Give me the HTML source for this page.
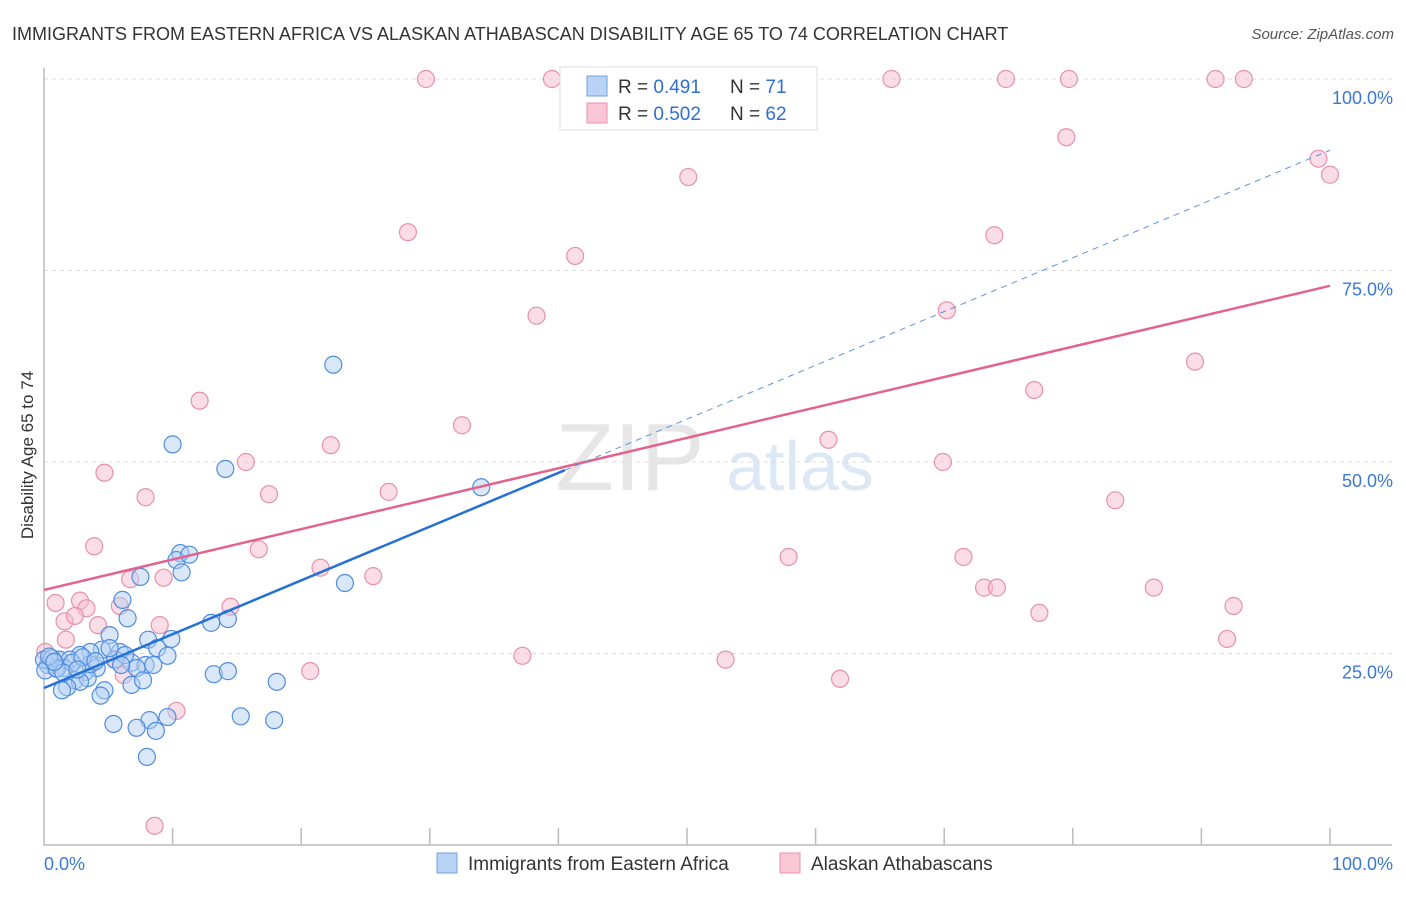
<!DOCTYPE html>
<html><head><meta charset="utf-8"><style>
body{margin:0;background:#fff;font-family:"Liberation Sans",sans-serif}
svg text{font-family:"Liberation Sans",sans-serif}
</style></head><body>
<svg id="c" width="1406" height="892">
<text x="12" y="40" font-size="18" fill="#333">IMMIGRANTS FROM EASTERN AFRICA VS ALASKAN ATHABASCAN DISABILITY AGE 65 TO 74 CORRELATION CHART</text>
<text x="1394" y="39" font-size="15" fill="#555" font-style="italic" text-anchor="end">Source: ZipAtlas.com</text>
<text x="630" y="490" font-size="96" fill="#e6e6e6" font-family="Liberation Serif" text-anchor="middle">ZIP</text>
<text x="800" y="490" font-size="70" fill="#dce8f6" text-anchor="middle">atlas</text>
<text transform="translate(33,455) rotate(-90)" font-size="17" fill="#333" text-anchor="middle">Disability Age 65 to 74</text>
<g id="grid"></g><g id="pts"></g><g id="lines"></g>
<g>
<rect x="560" y="67" width="257" height="63" fill="#fff" stroke="#ddd"/>
<rect x="587" y="76" width="20" height="20" fill="#b8d3f5" stroke="#6fa0e0"/>
<rect x="587" y="103" width="20" height="20" fill="#f8c6d5" stroke="#e892ad"/>
<text x="618" y="93" font-size="19" fill="#333">R = <tspan fill="#2f6fd0">0.491</tspan><tspan x="730">N = </tspan><tspan fill="#2f6fd0">71</tspan></text>
<text x="618" y="120" font-size="19" fill="#333">R = <tspan fill="#2f6fd0">0.502</tspan><tspan x="730">N = </tspan><tspan fill="#2f6fd0">62</tspan></text>
</g>
<g>
<rect x="437" y="853" width="20" height="20" fill="#b8d3f5" stroke="#6fa0e0"/>
<text x="468" y="870" font-size="19" fill="#333">Immigrants from Eastern Africa</text>
<rect x="780" y="853" width="20" height="20" fill="#f8c6d5" stroke="#e892ad"/>
<text x="811" y="870" font-size="19" fill="#333">Alaskan Athabascans</text>
</g>
<text x="44" y="870" font-size="18" fill="#3a78d6">0.0%</text>
<text x="1393" y="870" font-size="18" fill="#3a78d6" text-anchor="end">100.0%</text>
</svg>
<script>
const yTicks=[25,50,75,100];
const yTickLabels=["25.0%","50.0%","75.0%","100.0%"];
const blueX=[22.5,10.0,14.1,34.0,10.6,10.3,11.3,10.7,7.5,23.4,6.1,6.5,13.0,14.3,5.1,8.1,9.9,8.8,9.6,4.5,5.9,3.6,2.8,1.2,0.5,2.0,5.5,6.8,7.9,8.5,7.2,4.1,3.2,1.6,0.9,0.3,2.4,3.4,2.8,1.8,1.4,4.7,4.4,6.8,7.7,13.2,14.3,18.1,5.4,8.2,9.6,7.2,8.7,15.3,17.9,8.0,3.6,5.1,6.3,0,0.1,0.6,1.0,2.2,3.0,0.4,1.5,4.0,6.0,0.8,2.6];
const blueY=[62.7,52.3,49.1,46.7,38.1,37.2,37.9,35.6,35.0,34.2,32.0,29.6,29.0,29.5,27.4,26.8,26.9,25.7,24.7,25.5,25.2,25.2,24.8,24.2,23.9,24.2,24.2,23.8,23.5,23.5,23.1,23.1,22.6,23.1,23.1,23.5,21.5,21.8,21.3,20.6,20.2,20.2,19.5,20.9,21.5,22.3,22.7,21.3,15.8,16.3,16.7,15.3,14.9,16.8,16.3,11.5,23.6,25.7,24.8,24.2,22.8,24.4,23.0,23.8,24.5,24.6,22.5,24.0,23.5,23.9,22.9];
const pinkX=[29.7,39.5,65.9,74.8,79.7,91.1,93.3,79.5,99.1,100,50.1,28.3,73.9,41.3,38.3,70.2,89.5,77.0,12.1,32.5,22.3,61.0,15.7,69.9,4.7,7.9,17.5,26.8,83.3,3.9,16.7,57.9,71.5,21.5,25.6,6.7,9.3,73.1,74.1,86.3,0.9,2.8,3.3,5.9,92.5,14.5,77.4,1.6,2.4,4.2,9.0,92.0,1.7,0.1,37.2,53.0,20.7,6.2,61.9,10.3,8.6,5.6];
const pinkY=[100,100,100,100,100,100,100,92.4,89.6,87.5,87.2,80.0,79.6,76.9,69.1,69.8,63.1,59.4,58.0,54.8,52.2,52.9,50.0,50.0,48.6,45.4,45.8,46.1,45.0,39.0,38.6,37.6,37.6,36.2,35.1,34.7,34.9,33.6,33.6,33.6,31.6,31.9,30.9,31.2,31.2,31.1,30.3,29.2,29.9,28.7,28.7,26.9,26.8,25.2,24.7,24.2,22.7,22.2,21.7,17.5,2.5,24.2];
const pinkTrend=[33.3,73.0];
const blueTrend=[20.5,90.7];
const blueSolidEnd=40.5;
const ns="http://www.w3.org/2000/svg";
const X=v=>44+v*12.86, Y=v=>845-v*7.66;
function mk(t,a,p){const e=document.createElementNS(ns,t);for(const k in a)e.setAttribute(k,a[k]);p.appendChild(e);return e;}
const grid=document.getElementById('grid'),pts=document.getElementById('pts'),lines=document.getElementById('lines'),svg=document.getElementById('c');
yTicks.forEach((t,i)=>{
 const l=mk('line',{x1:44,x2:1392,y1:Y(t),y2:Y(t),stroke:'#ddd','stroke-dasharray':'4,4'},grid);
 
 
 const tx=mk('text',{x:1393,y:Y(t)+25,'font-size':18,fill:'#3a78d6','text-anchor':'end'},svg);
 tx.textContent=yTickLabels[i];
 
 
});
const ax=mk('path',{d:'M44,68V845H1392',fill:'none',stroke:'#bbb','stroke-width':1.5},grid);


for(let i=1;i<=10;i++){const t=mk('line',{x1:X(i*10),x2:X(i*10),y1:828,y2:845,stroke:'#bbb','stroke-width':1.5},grid);
 
 }
function dots(xs,ys,f,s,n){xs.forEach((x,i)=>{const c=mk('circle',{cx:X(x),cy:Y(ys[i]),r:8.5,fill:f,'fill-opacity':0.5,stroke:s,'stroke-width':1.2},pts);
 
 });}
dots(pinkX,pinkY,'#f6bccd','#e890ab','pink-point');
dots(blueX,blueY,'#b3cff3','#4f8ddf','blue-point');
const pl=mk('line',{x1:X(0),y1:Y(pinkTrend[0]),x2:X(100),y2:Y(pinkTrend[1]),stroke:'#e2638e','stroke-width':2.5},lines);


const by=x=>blueTrend[0]+(blueTrend[1]-blueTrend[0])*x/100;
const bl=mk('line',{x1:X(0),y1:Y(by(0)),x2:X(blueSolidEnd),y2:Y(by(blueSolidEnd)),stroke:'#2370d6','stroke-width':2.5},lines);


const bd=mk('line',{x1:X(blueSolidEnd),y1:Y(by(blueSolidEnd)),x2:X(100),y2:Y(by(100)),stroke:'#5b93dd','stroke-width':1,'stroke-dasharray':'6,5'},lines);


</script>
</body></html>
